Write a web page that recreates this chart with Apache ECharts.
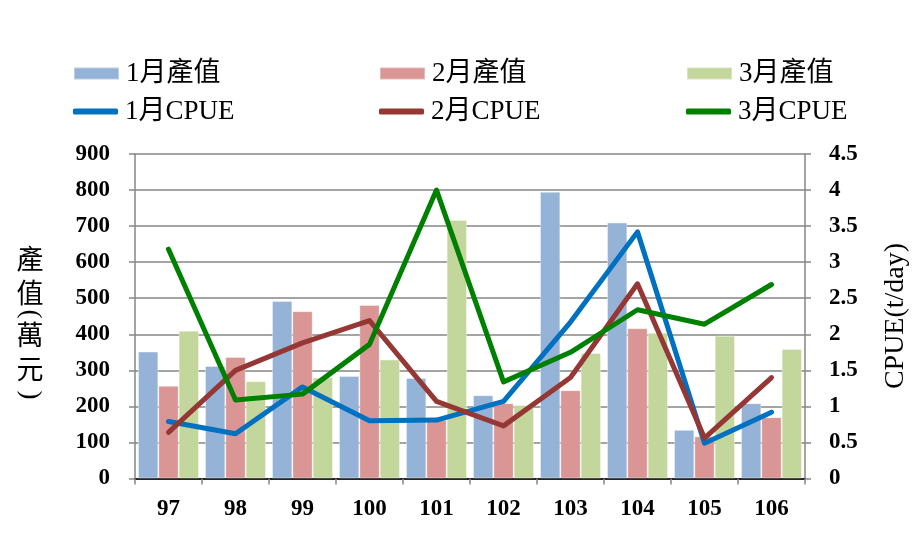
<!DOCTYPE html>
<html>
<head>
<meta charset="utf-8">
<script src="https://cdn.jsdelivr.net/npm/echarts@6/dist/echarts.min.js"></script>
<style>
html,body{margin:0;padding:0;background:#fff;}
#chart{width:922px;height:554px;}
</style>
</head>
<body>
<div id="chart"></div>
<script>
var categories = ['97','98','99','100','101','102','103','104','105','106'];
var value1 = [352, 312, 492, 284, 279, 231, 795, 710, 135, 209];
var value2 = [257, 337, 464, 481, 163, 209, 245, 417, 117, 170];
var value3 = [410, 270, 280, 330, 717, 204, 348, 404, 396, 359];
var cpue1 = [0.79, 0.62, 1.27, 0.80, 0.81, 1.07, 2.17, 3.42, 0.49, 0.92];
var cpue2 = [0.64, 1.50, 1.88, 2.19, 1.07, 0.73, 1.40, 2.70, 0.56, 1.40];
var cpue3 = [3.18, 1.09, 1.17, 1.86, 4.00, 1.34, 1.75, 2.34, 2.14, 2.69];
var seriesNames = ['1月產值','2月產值','3月產值','1月CPUE','2月CPUE','3月CPUE'];

var FONT = "'Liberation Serif','Times New Roman','Noto Sans CJK TC',serif";
var barColors = ['#95B3D7','#D99694','#C3D69B'];
var lineColors = ['#0070C0','#953735','#008000'];
var colX = [73, 379, 686];

var chart = echarts.init(document.getElementById('chart'));

var legends = [];
for (var i = 0; i < 3; i++) {
  legends.push({
    data: [seriesNames[i]], left: colX[i], top: 60, padding: 0,
    itemWidth: 45, itemHeight: 12, icon: 'rect',
    textStyle: {fontFamily: FONT, fontSize: 27, color: '#000', padding: [0,0,0,2]}
  });
  legends.push({
    data: [{name: seriesNames[i+3], icon: 'roundRect'}], left: colX[i], top: 98, padding: 0,
    itemWidth: 45, itemHeight: 6,
    textStyle: {fontFamily: FONT, fontSize: 27, color: '#000', padding: [0,0,0,2]}
  });
}

var axisLabelStyle = {fontFamily: FONT, fontSize: 23, fontWeight: 'bold', color: '#000'};

var series = [];
[value1, value2, value3].forEach(function (d, i) {
  series.push({
    name: seriesNames[i], type: 'bar', yAxisIndex: 0, data: d,
    barGap: '0%', barCategoryGap: '9%',
    itemStyle: {color: barColors[i], borderColor: 'rgba(255,255,255,0.35)', borderWidth: 1},
    emphasis: {disabled: true}
  });
});
[cpue1, cpue2, cpue3].forEach(function (d, i) {
  series.push({
    name: seriesNames[i+3], type: 'line', yAxisIndex: 1, data: d,
    symbol: 'none', showSymbol: false,
    itemStyle: {color: lineColors[i]},
    lineStyle: {color: lineColors[i], width: 5, cap: 'round', join: 'round'},
    emphasis: {disabled: true}, z: 5
  });
});

function nameChar(t, y, rot) {
  return {
    type: 'text', x: 30, y: y, rotation: rot || 0,
    style: {text: t, fontFamily: FONT, fontSize: 27, fill: '#000', align: 'center', verticalAlign: 'middle'}
  };
}

chart.setOption({
  animation: false,
  legend: legends,
  grid: {left: 135, right: 117, top: 154, bottom: 75.5, containLabel: false},
  xAxis: [{
    type: 'category', data: categories, position: 'bottom',
    axisLine: {lineStyle: {color: '#868686', width: 1.5}},
    axisTick: {show: true, length: 6, alignWithLabel: false, lineStyle: {color: '#868686', width: 1.5}},
    axisLabel: Object.assign({margin: 19}, axisLabelStyle)
  }, {
    type: 'category', data: categories, position: 'top',
    axisLine: {show: true, lineStyle: {color: '#262626', width: 2}},
    axisTick: {show: false}, axisLabel: {show: false}
  }],
  yAxis: [{
    type: 'value', min: 0, max: 900, interval: 100, position: 'left',
    axisLine: {show: true, lineStyle: {color: '#868686', width: 1.5}},
    axisTick: {show: true, length: 6, lineStyle: {color: '#868686', width: 1.5}},
    splitLine: {show: true, lineStyle: {color: '#868686', width: 1.5}},
    axisLabel: Object.assign({margin: 25}, axisLabelStyle)
  }, {
    type: 'value', min: 0, max: 4.5, interval: 0.5, position: 'right',
    axisLine: {show: true, lineStyle: {color: '#868686', width: 1.5}},
    axisTick: {show: true, length: 6, lineStyle: {color: '#868686', width: 1.5}},
    splitLine: {show: false},
    axisLabel: Object.assign({margin: 24}, axisLabelStyle)
  }],
  graphic: [
    nameChar('產', 262),
    nameChar('值', 296),
    nameChar('(', 314, -Math.PI / 2),
    nameChar('萬', 338),
    nameChar('元', 372),
    nameChar(')', 395, -Math.PI / 2),
    {
      type: 'text', x: 896, y: 316, rotation: Math.PI / 2,
      style: {
        text: 'CPUE(t/day)', fontFamily: FONT, fontSize: 28, fill: '#000',
        align: 'center', verticalAlign: 'middle'
      }
    }
  ],
  series: series
});
</script>
</body>
</html>
